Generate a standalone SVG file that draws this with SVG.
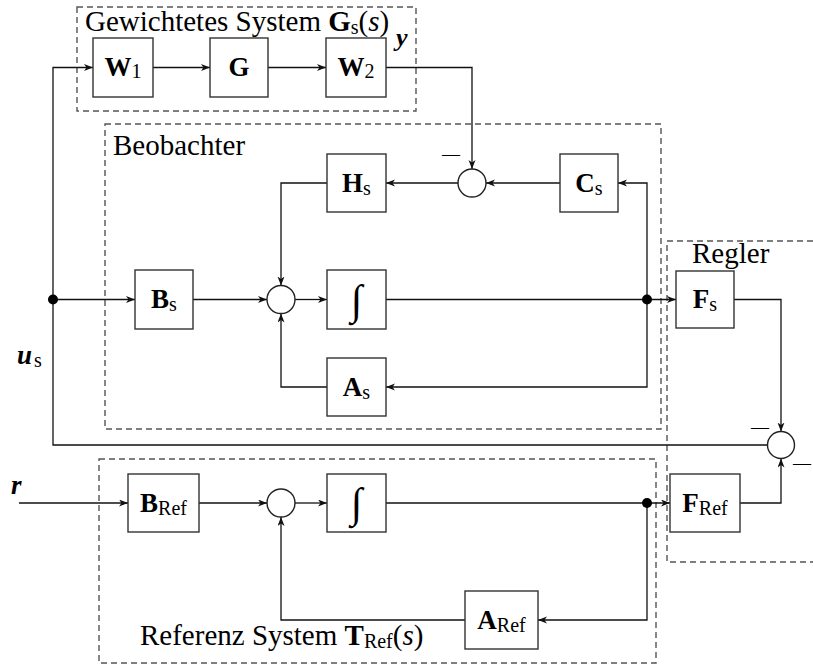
<svg xmlns="http://www.w3.org/2000/svg" width="813" height="666" viewBox="0 0 813 666" font-family="'Liberation Serif','Times New Roman',serif">
<style>
.box{fill:#fff;stroke:#333;stroke-width:1.4}
.sum{fill:#fff;stroke:#222;stroke-width:1.4}
.grp{fill:none;stroke:#555;stroke-width:1.4;stroke-dasharray:6,4}
.wire{fill:none;stroke:#111;stroke-width:1.3}
.arr{marker-end:url(#ah)}
text{font-family:"Liberation Serif","Times New Roman",serif;fill:#000}
.lbl{font-size:27px;text-anchor:middle}
.b{font-weight:bold}
.sub{font-size:20px}
.title{font-size:29px}
.minus{font-size:18px}
.int{font-size:42px;text-anchor:middle}
</style>
<defs>
<marker id="ah" markerUnits="userSpaceOnUse" markerWidth="10" markerHeight="8" refX="9" refY="3.5" orient="auto">
<path d="M0,0 L9,3.5 L0,7 L2.5,3.5 z" fill="#111"/>
</marker>
</defs>
<rect width="813" height="666" fill="#fff"/>

<g id="groups">
<rect class="grp" x="77" y="7" width="339" height="104"/>
<rect class="grp" x="105" y="124" width="556" height="305"/>
<path class="grp" d="M813,241 H667 V562 H813"/>
<rect class="grp" x="99" y="459" width="557" height="204"/>
<text class="title" x="85" y="31">Gewichtetes System <tspan class="b">G</tspan><tspan class="sub" dy="3">s</tspan><tspan dy="-3">(</tspan><tspan font-style="italic">s</tspan>)</text>
<text class="title" x="113" y="155">Beobachter</text>
<text class="title" x="692" y="263">Regler</text>
<text class="title" x="140" y="645">Referenz System <tspan class="b">T</tspan><tspan class="sub" dy="3">Ref</tspan><tspan dy="-3">(</tspan><tspan font-style="italic">s</tspan>)</text>
</g>

<g id="connectors">
<path class="wire arr" d="M767.5,445 H53 V67.5 H93"/>
<path class="wire arr" d="M53,299.5 H135"/>
<path class="wire arr" d="M153,67.5 H210"/>
<path class="wire arr" d="M268,67.5 H326"/>
<path class="wire arr" d="M386,67.5 H472 V169"/>
<path class="wire arr" d="M560,183 H486"/>
<path class="wire arr" d="M458,183 H386"/>
<path class="wire arr" d="M327,183 H281 V285.5"/>
<path class="wire arr" d="M193,299.5 H267"/>
<path class="wire arr" d="M295,299.5 H327"/>
<path class="wire arr" d="M386,299.5 H676"/>
<path class="wire arr" d="M647,299.5 V183 H618"/>
<path class="wire arr" d="M647,299.5 V387 H386"/>
<path class="wire arr" d="M327,387 H281 V313.5"/>
<path class="wire arr" d="M734,299.5 H781 V431.5"/>
<path class="wire arr" d="M19,503 H128"/>
<path class="wire arr" d="M199,503 H267"/>
<path class="wire arr" d="M295,503 H327"/>
<path class="wire arr" d="M386,503 H670"/>
<path class="wire arr" d="M647,503 V620 H538"/>
<path class="wire arr" d="M465,620 H281 V517"/>
<path class="wire arr" d="M740,503 H781 V458.5"/>
<circle cx="53" cy="299.5" r="5" fill="#000"/>
<circle cx="647" cy="299.5" r="5" fill="#000"/>
<circle cx="647" cy="503" r="5" fill="#000"/>
<text x="396" y="46" font-size="26" font-weight="bold" font-style="italic">y</text>
<text x="17" y="364" font-size="27" font-weight="bold" font-style="italic">u<tspan class="sub" font-weight="normal" font-style="normal" dx="2" dy="3">s</tspan></text>
<text x="11" y="494" font-size="27" font-weight="bold" font-style="italic">r</text>
</g>

<g id="W1"><rect class="box" x="93" y="38" width="60" height="59"/><text class="lbl" x="123" y="76"><tspan class="b">W</tspan><tspan class="sub" font-size="22" dy="2">1</tspan></text></g>
<g id="G"><rect class="box" x="210" y="38" width="58" height="59"/><text class="lbl b" x="239" y="76">G</text></g>
<g id="W2"><rect class="box" x="326" y="38" width="60" height="59"/><text class="lbl" x="356" y="76"><tspan class="b">W</tspan><tspan class="sub" font-size="22" dy="2">2</tspan></text></g>

<g id="Hs"><rect class="box" x="327" y="154" width="59" height="58"/><text class="lbl" x="356.5" y="191.5"><tspan class="b">H</tspan><tspan class="sub" dy="3">s</tspan></text></g>
<g id="Cs"><rect class="box" x="560" y="154" width="58" height="58"/><text class="lbl" x="589" y="191.5"><tspan class="b">C</tspan><tspan class="sub" dy="3">s</tspan></text></g>
<g id="Bs"><rect class="box" x="135" y="270" width="58" height="59"/><text class="lbl" x="164" y="308"><tspan class="b">B</tspan><tspan class="sub" dy="3">s</tspan></text></g>
<g id="Int1"><rect class="box" x="327" y="270" width="59" height="59"/><text class="int" x="356.5" y="314">∫</text></g>
<g id="As"><rect class="box" x="327" y="358" width="59" height="58"/><text class="lbl" x="356.5" y="395.5"><tspan class="b">A</tspan><tspan class="sub" dy="3">s</tspan></text></g>
<g id="Fs"><rect class="box" x="676" y="271" width="58" height="57"/><text class="lbl" x="705" y="308"><tspan class="b">F</tspan><tspan class="sub" dy="3">s</tspan></text></g>

<g id="S1"><circle class="sum" cx="472" cy="183" r="14"/><text class="minus" x="442" y="160">—</text></g>
<g id="S2"><circle class="sum" cx="281" cy="299.5" r="14"/></g>
<g id="S3"><circle class="sum" cx="781" cy="445" r="13.5"/><text class="minus" x="751" y="433">—</text><text class="minus" x="793" y="469">—</text></g>
<g id="S4"><circle class="sum" cx="281" cy="503" r="14"/></g>

<g id="BRef"><rect class="box" x="128" y="474" width="71" height="58"/><text class="lbl" x="163.5" y="511.5"><tspan class="b">B</tspan><tspan class="sub" dy="3">Ref</tspan></text></g>
<g id="Int2"><rect class="box" x="327" y="474" width="59" height="58"/><text class="int" x="356.5" y="517">∫</text></g>
<g id="FRef"><rect class="box" x="670" y="474" width="70" height="58"/><text class="lbl" x="705" y="511.5"><tspan class="b">F</tspan><tspan class="sub" dy="3">Ref</tspan></text></g>
<g id="ARef"><rect class="box" x="465" y="591" width="73" height="58"/><text class="lbl" x="501.5" y="628.5"><tspan class="b">A</tspan><tspan class="sub" dy="3">Ref</tspan></text></g>
</svg>
